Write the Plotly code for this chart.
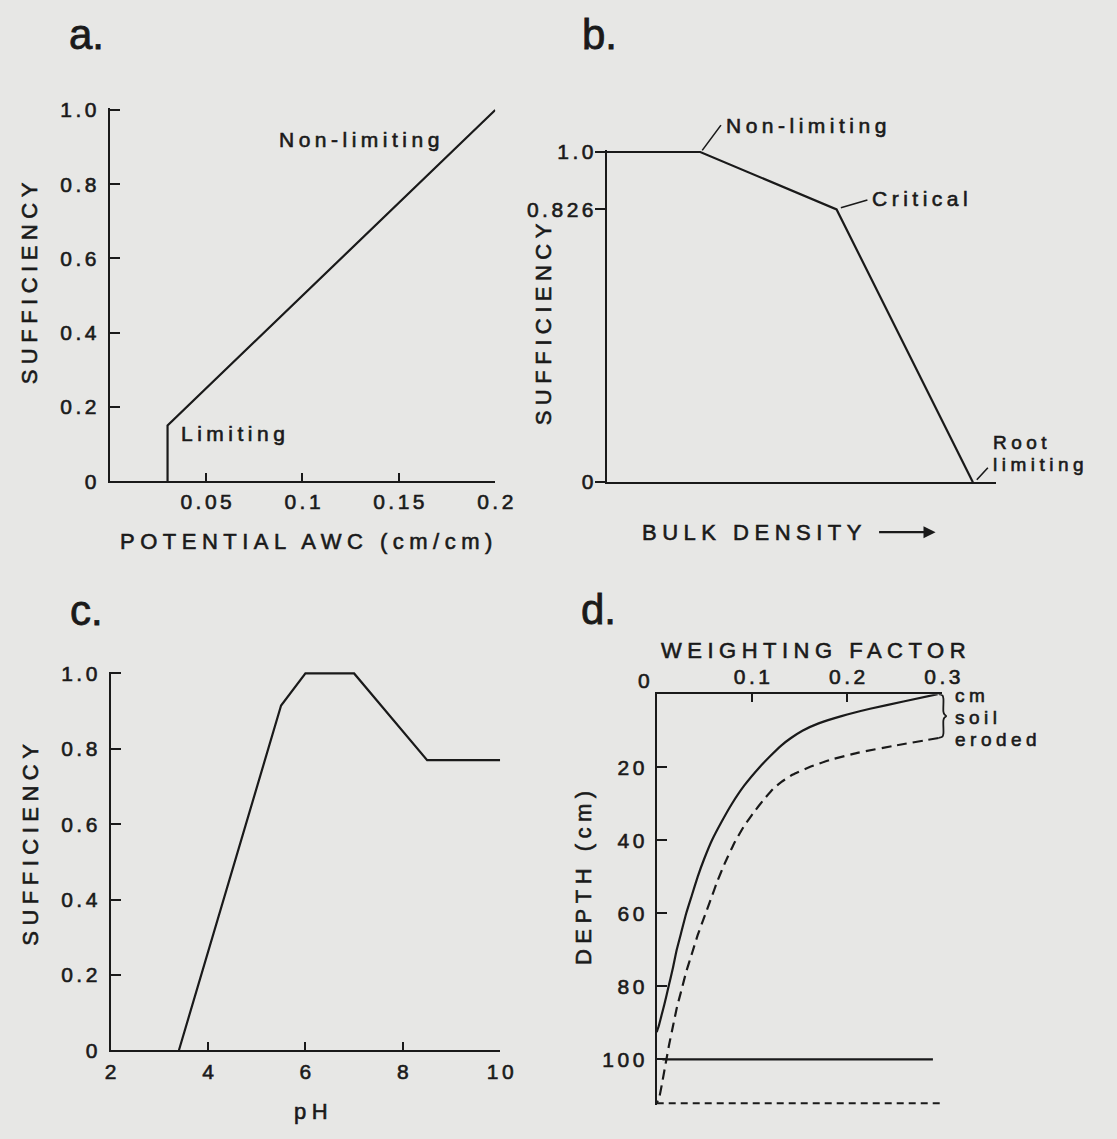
import plotly.graph_objects as go

W, H = 1117, 1139
INK = "#1a1a1a"
PAPER = "#e7e7e5"
FONT = "Liberation Sans, Arial, Helvetica, sans-serif"

# ---- a. sufficiency vs potential available water capacity ----
awc = [0.03, 0.03, 0.2]
awc_suff = [0.0, 0.15, 1.0]
awc_ticks = [0.05, 0.1, 0.15, 0.2]
awc_ticktext = ["0.05", "0.1", "0.15", "0.2"]
suff_ticks = [0, 0.2, 0.4, 0.6, 0.8, 1.0]
suff_ticktext = ["0", "0.2", "0.4", "0.6", "0.8", "1.0"]

# ---- b. sufficiency vs bulk density (relative scale) ----
bd = [0.0, 0.24, 0.59, 0.94]
bd_suff = [1.0, 1.0, 0.826, 0.0]
bd_ticks = [0, 0.826, 1.0]
bd_ticktext = ["0", "0.826", "1.0"]

# ---- c. sufficiency vs pH ----
ph = [3.4, 5.5, 6.0, 7.0, 8.5, 10.0]
ph_suff = [0.0, 0.915, 1.0, 1.0, 0.77, 0.77]
ph_ticks = [2, 4, 6, 8, 10]
ph_ticktext = ["2", "4", "6", "8", "10"]

# ---- d. weighting factor vs depth ----
depth_orig = [0, 2, 4, 6, 8, 10, 12, 14, 17, 20, 25, 30, 35, 40, 45, 50, 55, 60,
              65, 70, 75, 80, 85, 88, 91, 92.5]
wf_orig = [0.295, 0.259, 0.224, 0.194, 0.170, 0.153, 0.141, 0.131, 0.119, 0.108,
           0.092, 0.079, 0.068, 0.058, 0.050, 0.043, 0.037, 0.031, 0.026, 0.021,
           0.017, 0.0125, 0.008, 0.005, 0.002, 0.0]
depth_eroded = [12, 14, 16, 18, 20, 22, 24, 26, 29, 32, 36, 41, 46, 51, 56, 61, 66,
                71, 76, 81, 86, 91, 96, 101, 106, 110, 112]
wf_eroded = [0.296, 0.252, 0.212, 0.182, 0.160, 0.143, 0.131, 0.122, 0.112, 0.103,
             0.092, 0.081, 0.072, 0.064, 0.057, 0.050, 0.043, 0.037, 0.031, 0.026,
             0.021, 0.017, 0.013, 0.0095, 0.006, 0.003, 0.0]
root_depth = [100, 100]
root_wf = [0.006, 0.29]
root_depth_eroded = [112, 112]
root_wf_eroded = [0.0, 0.3]
eroded_cm = 12
depth_ticks = [20, 40, 60, 80, 100]
depth_ticktext = ["20", "40", "60", "80", "100"]
wf_ticks = [0.1, 0.2, 0.3]
wf_ticktext = ["0.1", "0.2", "0.3"]

# brace beside the eroded layer: fraction of the layer depth and offset in weighting units
brace_t = [0.0, 0.03, 0.1, 0.4, 0.46, 0.5, 0.54, 0.6, 0.9, 0.97, 1.0]
brace_dx = [-0.004, 0.0, 0.001, 0.001, 0.002, 0.004, 0.002, 0.001, 0.001, 0.0, -0.004]


def sp(s, ls, size=None, stroke=0.6):
    """Tracked, slightly heavier text; no trailing space after the last glyph."""
    st = f"stroke:{INK};stroke-width:{stroke}px"
    if size:
        st += f";font-size:{size}px"
    if len(s) > 1:
        return (f'<span style="letter-spacing:{ls}px;{st}">{s[:-1]}</span>'
                f'<span style="{st}">{s[-1]}</span>')
    return f'<span style="{st}">{s}</span>'


def xp(px):
    return px / W


def yp(py):
    return 1 - py / H


fig = go.Figure()

line_style = dict(color=INK, width=2.2)

fig.add_trace(go.Scatter(x=awc, y=awc_suff, mode="lines", line=line_style,
                         xaxis="x", yaxis="y", hoverinfo="skip"))
fig.add_trace(go.Scatter(x=bd, y=bd_suff, mode="lines", line=line_style,
                         xaxis="x2", yaxis="y2", hoverinfo="skip"))
fig.add_trace(go.Scatter(x=ph, y=ph_suff, mode="lines", line=line_style,
                         xaxis="x3", yaxis="y3", hoverinfo="skip"))
fig.add_trace(go.Scatter(x=wf_orig, y=depth_orig, mode="lines",
                         line=dict(color=INK, width=2.2, shape="spline", smoothing=0.4),
                         xaxis="x4", yaxis="y4", hoverinfo="skip"))
fig.add_trace(go.Scatter(x=wf_eroded, y=depth_eroded, mode="lines",
                         line=dict(color=INK, width=2.2, dash="10px,6px", shape="spline",
                                   smoothing=0.4),
                         xaxis="x4", yaxis="y4", hoverinfo="skip"))
fig.add_trace(go.Scatter(x=root_wf, y=root_depth, mode="lines", line=line_style,
                         xaxis="x4", yaxis="y4", hoverinfo="skip"))
fig.add_trace(go.Scatter(x=root_wf_eroded, y=root_depth_eroded, mode="lines",
                         line=dict(color=INK, width=2.2, dash="7px,5px"),
                         xaxis="x4", yaxis="y4", hoverinfo="skip"))
# brace drawn on an invisible companion axis pair sharing panel d's scale
fig.add_trace(go.Scatter(x=[0.3 + d for d in brace_dx],
                         y=[t * eroded_cm for t in brace_t], mode="lines",
                         line=dict(color=INK, width=1.8, shape="spline", smoothing=0.8),
                         xaxis="x5", yaxis="y5", hoverinfo="skip"))

tick_font = dict(family=FONT, size=21, color=INK)
common = dict(showgrid=False, zeroline=False, showline=True, linecolor=INK,
              linewidth=2.2, tickcolor=INK, tickwidth=2.2, tickfont=tick_font,
              tickmode="array", fixedrange=True)


def tt(labels):
    return [sp(t, 3.5) for t in labels]


# panel geometry (pixels)
A = dict(x0=106, x1=500, y0=480, y1=100)
B = dict(x0=614, x1=1012, y0=481, y1=143)
C = dict(x0=107, x1=505, y0=1060, y1=674)
D = dict(x0=665, x1=957, y0=1116, y1=697)

fig.update_layout(
    width=W, height=H,
    margin=dict(l=0, r=0, t=0, b=0),
    paper_bgcolor=PAPER, plot_bgcolor="rgba(0,0,0,0)",
    showlegend=False,
    font=dict(family=FONT, color=INK),
    xaxis=dict(common, domain=[xp(A["x0"]), xp(A["x1"])], range=[0, 0.2], anchor="y",
               tickvals=awc_ticks, ticktext=tt(awc_ticktext), ticks="inside", ticklen=8,
               ticklabelstandoff=1),
    yaxis=dict(common, domain=[yp(A["y0"]), yp(A["y1"])], range=[0, 1.005], anchor="x",
               tickvals=suff_ticks, ticktext=tt(suff_ticktext), ticks="inside", ticklen=10,
               ticklabelstandoff=7),
    xaxis2=dict(common, domain=[xp(B["x0"]), xp(B["x1"])], range=[0, 1], anchor="y2",
                ticks="", showticklabels=False, tickvals=[]),
    yaxis2=dict(common, domain=[yp(B["y0"]), yp(B["y1"])], range=[0, 1.005], anchor="x2",
                tickvals=bd_ticks, ticktext=tt(bd_ticktext), ticks="outside", ticklen=10,
                ticklabelstandoff=-3),
    xaxis3=dict(common, domain=[xp(C["x0"]), xp(C["x1"])], range=[2, 10], anchor="y3",
                tickvals=ph_ticks, ticktext=tt(ph_ticktext), ticks="inside", ticklen=8,
                ticklabelstandoff=1),
    yaxis3=dict(common, domain=[yp(C["y0"]), yp(C["y1"])], range=[0, 1.005], anchor="x3",
                tickvals=suff_ticks, ticktext=tt(suff_ticktext), ticks="inside", ticklen=10,
                ticklabelstandoff=7),
    xaxis4=dict(common, domain=[xp(D["x0"]), xp(D["x1"])], range=[0, 0.3], anchor="y4",
                side="top", tickvals=wf_ticks, ticktext=tt(wf_ticktext), ticks="inside",
                ticklen=8, ticklabelstandoff=0),
    yaxis4=dict(common, domain=[yp(D["y0"]), yp(D["y1"])], range=[112.6, 0], anchor="x4",
                tickvals=depth_ticks, ticktext=tt(depth_ticktext), ticks="inside",
                ticklen=10, ticklabelstandoff=6),
    xaxis5=dict(domain=[xp(D["x0"]), xp(D["x0"] + (D["x1"] - D["x0"]) * 1.1)],
                range=[0, 0.33], anchor="y5", visible=False, fixedrange=True),
    yaxis5=dict(domain=[yp(D["y0"]), yp(D["y1"])], range=[112.6, 0], anchor="x5",
                visible=False, fixedrange=True),
)

ann = []


def paper_text(s, cx, cy, size=22, ls=5.5, angle=0, xanchor="center"):
    ann.append(dict(text=sp(s, ls), x=xp(cx), y=yp(cy), xref="paper", yref="paper",
                    showarrow=False, textangle=angle, xanchor=xanchor, yanchor="middle",
                    font=dict(family=FONT, size=size, color=INK)))


def data_text(s, x, y, xr, yr, xshift=0, yshift=0, ls=4.5, xanchor="left"):
    ann.append(dict(text=sp(s, ls), x=x, y=y, xref=xr, yref=yr, showarrow=False,
                    xanchor=xanchor, yanchor="middle", xshift=xshift, yshift=yshift,
                    font=dict(family=FONT, size=21, color=INK)))


def stacked_text(lines, x, y, xr, yr, line_gap, size=19, xshift=0, yshift=0, ls=4.5):
    # short labels stacked with a tight line pitch of line_gap pixels
    body = "<br>".join(sp(s, ls, size=size) for s in lines)
    ann.append(dict(text=body, x=x, y=y, xref=xr, yref=yr, showarrow=False,
                    xanchor="left", yanchor="middle", align="left",
                    xshift=xshift, yshift=yshift,
                    font=dict(family=FONT, size=line_gap / 1.3, color=INK)))


def leader(x, y, ax, ay, xr, yr):
    ann.append(dict(text="", x=x, y=y, ax=ax, ay=ay, xref=xr, yref=yr, axref=xr, ayref=yr,
                    showarrow=True, arrowhead=0, arrowwidth=1.6, arrowcolor=INK,
                    standoff=0, startstandoff=0))


# panel letters
for letter, cx, cy in [("a.", 62, 25), ("b.", 587, 25), ("c.", 63, 612), ("d.", 586, 611)]:
    ann.append(dict(text=sp(letter, 0, stroke=0.8), x=xp(cx), y=yp(cy), xref="paper",
                    yref="paper", showarrow=False, xanchor="left", yanchor="middle",
                    font=dict(family=FONT, size=42, color=INK)))

# axis titles
paper_text("SUFFICIENCY", 24, 278, angle=-90)
paper_text("POTENTIAL AWC (cm/cm)", 307, 541)
paper_text("SUFFICIENCY", 549, 320, angle=-90)
paper_text("BULK DENSITY", 648, 532, xanchor="left")
paper_text("SUFFICIENCY", 25, 850, angle=-90)
paper_text("pH", 312, 1122)
paper_text("WEIGHTING FACTOR", 825, 653)
paper_text("DEPTH (cm)", 590, 884, angle=-90)

# arrow after BULK DENSITY
ann.append(dict(text="", x=xp(950), y=yp(532), xref="paper", yref="paper", ax=-58, ay=0,
                showarrow=True, arrowhead=2, arrowsize=1.1, arrowwidth=2.2, arrowcolor=INK,
                standoff=0))

# panel a labels
data_text("Non-limiting", 0.087, 0.921, "x", "y")
data_text("Limiting", 0.036, 0.129, "x", "y")

# panel b labels with leaders
leader(0.245, 1.005, 0.296, 1.086, "x2", "y2")
data_text("Non-limiting", 0.300, 1.0, "x2", "y2", yshift=27)
leader(0.601, 0.831, 0.673, 0.856, "x2", "y2")
data_text("Critical", 0.677, 0.859, "x2", "y2")
leader(0.95, 0.007, 0.982, 0.048, "x2", "y2")
stacked_text(["Root", "limiting"], 0.986, 0.086, "x2", "y2", line_gap=22)

# panel d labels
data_text("0", 0, 0, "x4", "y4", xshift=-13, yshift=14, xanchor="center")
stacked_text(["cm", "soil", "eroded"], 0.3, eroded_cm / 2, "x4", "y4", line_gap=22,
             xshift=11, yshift=-1)

fig.update_layout(annotations=ann)
fig.write_html("out.html")
